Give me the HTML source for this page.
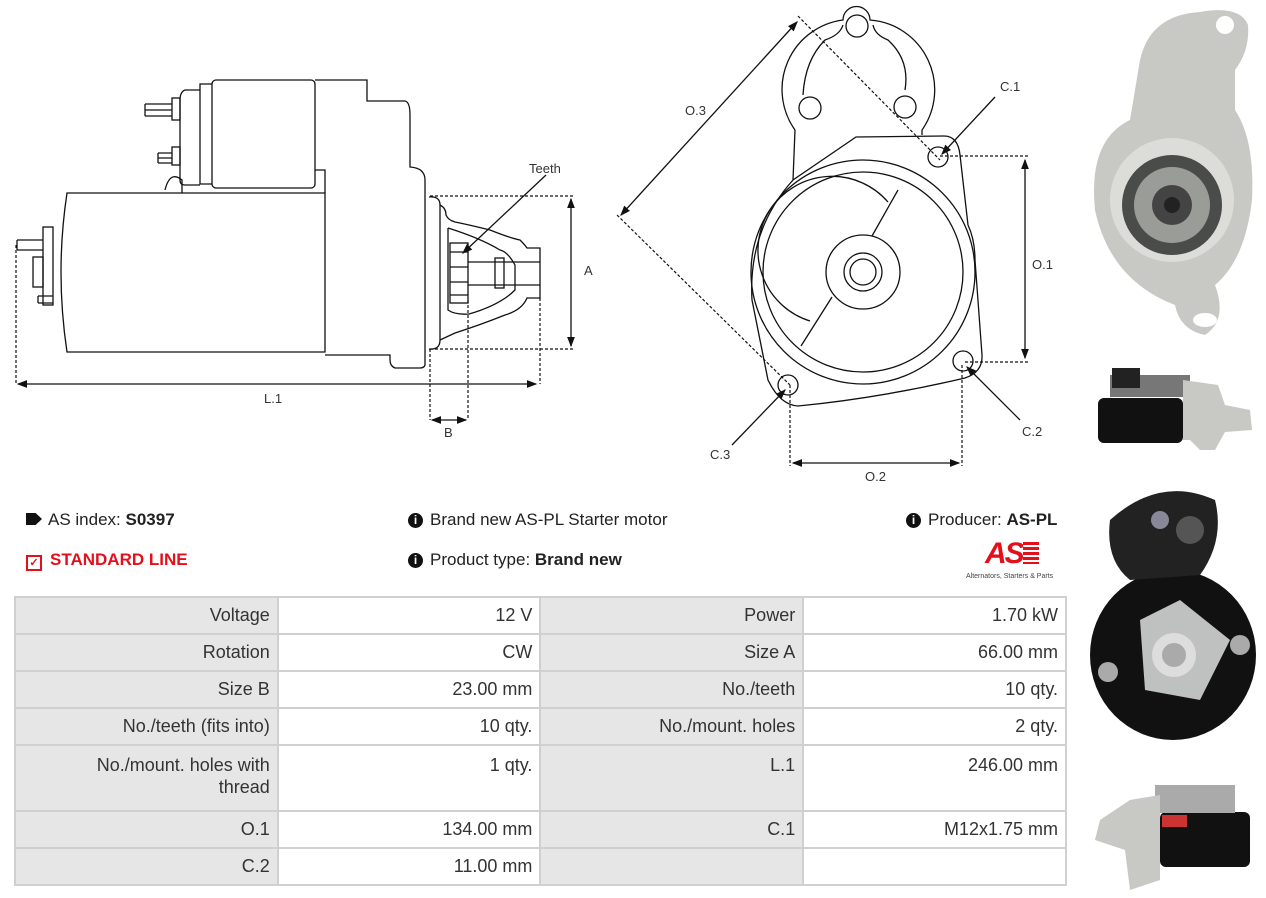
<!DOCTYPE html>
<html><head><meta charset="utf-8"><style>
body{margin:0;width:1266px;height:898px;background:#fff;font-family:"Liberation Sans",sans-serif;position:relative;overflow:hidden;color:#222}
.t{position:absolute;font-size:17px;white-space:nowrap}
table{position:absolute;left:14px;top:596px;border-collapse:collapse;width:1053px;font-size:18px}
td{border:2px solid #d0d0d0;text-align:right;padding:0 7px;height:34px;vertical-align:middle;color:#333}
td.l{background:#e6e6e6;width:248px}
td.v{background:#fff;width:248px}
tr.tall td{height:56px;vertical-align:top;padding-top:8px;line-height:22px}
.i{display:inline-block;width:15px;height:15px;border-radius:50%;background:#111;color:#fff;font-size:12px;font-weight:bold;text-align:center;line-height:15px;margin-right:7px;vertical-align:1px}
</style></head><body>
<svg width="1266" height="898" style="position:absolute;left:0;top:0" fill="none" stroke="#111" stroke-width="1.3">
<defs><marker id="a" markerWidth="8" markerHeight="8" refX="7" refY="4" orient="auto-start-reverse"><path d="M0,1 L8,4 L0,7z" fill="#111" stroke="none"/></marker></defs>
<!-- side view -->
<path d="M67,193 L325,193 L325,352 L67,352 Q55,272 67,193Z"/>
<path d="M182,193 L182,180 Q170,170 165,190"/>
<path d="M325,193 L325,170 L315,170"/>
<rect x="212" y="80" width="103" height="108" rx="4"/>
<path d="M212,84 L200,84 L200,184 L212,184"/>
<path d="M200,90 L185,90 Q180,92 180,100 L180,180 Q180,185 185,185 L200,185"/>
<rect x="172" y="98" width="8" height="22"/><rect x="172" y="147" width="8" height="18"/>
<path d="M145,104 h27 M145,110 h27 M145,116 h27 M145,104 v12"/>
<path d="M158,153 h14 M158,158 h14 M158,163 h14 M158,153 v10"/>
<path d="M315,80 L367,80 L367,101 L405,101 Q410,102 410,115 L410,167 Q425,168 425,180 L425,365 Q424,368 420,368 L395,368 Q390,366 390,360 L390,355 L325,355"/>
<path d="M429,197 Q440,196 440,205 L440,340 Q440,350 429,349"/>
<path d="M440,205 Q446,208 446,215 Q448,220 455,222 Q470,225 490,230 Q510,238 520,240 Q525,245 527,248 L540,248 L540,298 L527,298 Q522,310 505,315 Q480,325 455,333 L440,340"/>
<path d="M448,228 L448,310 Q455,315 469,314 Q500,305 515,290 L515,265 Q508,252 500,250 Q480,238 448,228"/>
<rect x="450" y="243" width="18" height="60"/><path d="M450,252 h18 M450,267 h18 M450,282 h18 M450,295 h18"/>
<path d="M468,262 L540,262 M468,285 L540,285"/><rect x="495" y="258" width="9" height="30"/>
<rect x="33" y="257" width="10" height="30"/><rect x="43" y="227" width="10" height="78"/>
<path d="M17,240 h26 M17,250 h26 M17,240 v10"/><path d="M38,296 h15 M38,303 h15 M38,296 v7"/>
<g stroke-dasharray="3,2" stroke-width="1.2">
<path d="M16,245 L16,384 M430,196 L575,196 M430,349 L575,349 M540,298 L540,384 M430,349 L430,420 M468,300 L468,420"/>
</g>
<path d="M18,384 L536,384" marker-start="url(#a)" marker-end="url(#a)"/>
<path d="M571,199 L571,346" marker-start="url(#a)" marker-end="url(#a)"/>
<path d="M432,420 L466,420" marker-start="url(#a)" marker-end="url(#a)"/>
<path d="M546,175 L463,253" marker-end="url(#a)"/>
<!-- front view -->
<path d="M795,130 A70,70 0 0 1 843,20 A11,11 0 0 1 870,20 A70,70 0 0 1 922,130"/>
<path d="M803,95 Q805,60 825,40 Q840,35 843,25 M905,90 Q910,60 888,40 Q875,35 873,25"/>
<circle cx="857" cy="26" r="11"/><circle cx="810" cy="108" r="11"/><circle cx="905" cy="107" r="11"/>
<path d="M793,180 L795,130 M922,130 L922,135"/>
<path d="M856,137 L944,136 Q958,136 960,155 L968,225 Q975,240 975,260 L982,355 Q983,372 965,378 Q880,398 798,406 Q780,405 768,380 L752,300 Q748,230 793,180 L856,137Z"/>
<circle cx="863" cy="272" r="112"/><circle cx="863" cy="272" r="100"/>
<path d="M888,202 A74,74 0 1 0 810,321"/><circle cx="863" cy="272" r="37"/><circle cx="863" cy="272" r="19"/><circle cx="863" cy="272" r="13"/>
<path d="M898,190 L872,236 M832,297 L801,346"/>
<circle cx="938" cy="157" r="10"/><circle cx="963" cy="361" r="10"/><circle cx="788" cy="385" r="10"/>
<g stroke-dasharray="3,2" stroke-width="1.2">
<path d="M798,16 L940,160 M617,215 L790,385 M940,156 L1028,156 M965,362 L1028,362 M790,385 L790,466 M962,365 L962,466"/>
</g>
<path d="M797,22 L621,215" marker-start="url(#a)" marker-end="url(#a)"/>
<path d="M1025,160 L1025,358" marker-start="url(#a)" marker-end="url(#a)"/>
<path d="M793,463 L959,463" marker-start="url(#a)" marker-end="url(#a)"/>
<path d="M995,97 L942,154" marker-end="url(#a)"/>
<path d="M1020,420 L967,367" marker-end="url(#a)"/>
<path d="M732,445 L785,390" marker-end="url(#a)"/>
<g fill="#333" stroke="none" font-family="Liberation Sans" font-size="13">
<text x="529" y="173">Teeth</text><text x="584" y="275">A</text><text x="264" y="403">L.1</text><text x="444" y="437">B</text>
<text x="685" y="115">O.3</text><text x="1000" y="91">C.1</text><text x="1032" y="269">O.1</text><text x="1022" y="436">C.2</text><text x="710" y="459">C.3</text><text x="865" y="481">O.2</text>
</g>
<!-- photos -->
<g stroke="none">
<path d="M1140,60 Q1150,15 1200,12 Q1240,5 1248,25 Q1250,50 1235,70 L1235,110 Q1255,140 1252,200 Q1245,260 1215,285 Q1228,320 1205,335 Q1180,330 1175,305 Q1110,280 1095,210 Q1088,140 1130,120Z" fill="#c8c8c4"/>
<circle cx="1172" cy="200" r="62" fill="#dcdcd8"/>
<circle cx="1172" cy="205" r="50" fill="#4a4c4a"/><circle cx="1172" cy="205" r="38" fill="#9a9c98"/><circle cx="1172" cy="205" r="20" fill="#444"/><circle cx="1172" cy="205" r="8" fill="#222"/>
<circle cx="1225" cy="25" r="9" fill="#fff"/><ellipse cx="1205" cy="320" rx="12" ry="7" fill="#fff"/>
<rect x="1098" y="398" width="85" height="45" rx="6" fill="#111"/><rect x="1110" y="375" width="80" height="22" fill="#777"/><path d="M1183,380 L1218,385 L1225,405 L1250,410 L1252,430 L1225,432 L1215,450 L1200,450 L1190,440 L1183,440Z" fill="#c8c8c4"/><rect x="1112" y="368" width="28" height="20" fill="#222"/>
<ellipse cx="1173" cy="655" rx="83" ry="85" fill="#111"/><path d="M1140,620 L1180,600 L1230,640 L1200,700 L1145,690Z" fill="#bfc1c0"/><circle cx="1174" cy="655" r="22" fill="#ddd"/><circle cx="1174" cy="655" r="12" fill="#aaa"/>
<circle cx="1108" cy="672" r="10" fill="#aaa"/><circle cx="1240" cy="645" r="10" fill="#aaa"/>
<path d="M1110,520 Q1160,475 1215,500 Q1225,540 1200,575 L1130,580 Q1105,560 1110,520Z" fill="#222"/><circle cx="1190" cy="530" r="14" fill="#555"/><circle cx="1160" cy="520" r="9" fill="#889"/>
<rect x="1160" y="812" width="90" height="55" rx="6" fill="#111"/><rect x="1155" y="785" width="80" height="28" fill="#aaa"/><path d="M1100,820 L1130,800 L1160,795 L1160,880 L1130,890 L1125,850 L1095,840Z" fill="#c8c8c4"/><rect x="1162" y="815" width="25" height="12" fill="#c33"/>
</g>
</svg>
<div class="t" style="left:26px;top:510px"><span style="display:inline-block;width:16px;height:12px;background:#111;clip-path:polygon(0 0,60% 0,100% 50%,60% 100%,0 100%);margin-right:6px"></span>AS index: <b>S0397</b></div>
<div class="t" style="left:26px;top:550px;color:#e3101b;font-weight:bold"><span style="display:inline-block;width:12px;height:12px;border:2px solid #e3101b;margin-right:8px;vertical-align:-1px;font-size:11px;line-height:12px;text-align:center">✓</span>STANDARD LINE</div>
<div class="t" style="left:408px;top:510px"><span class="i">i</span>Brand new AS-PL Starter motor</div>
<div class="t" style="left:408px;top:550px"><span class="i">i</span>Product type: <b>Brand new</b></div>
<div class="t" style="left:906px;top:510px"><span class="i">i</span>Producer: <b>AS-PL</b></div>
<div class="t" style="left:985px;top:537px;color:#e3101b;font-size:30px;font-weight:bold;font-style:italic;letter-spacing:-2px">AS<span style="display:inline-block;width:16px;height:22px;background:repeating-linear-gradient(#e3101b 0 3px,#fff 3px 5px);vertical-align:-1px"></span></div>
<div class="t" style="left:966px;top:573px;font-size:7px;color:#444">Alternators, Starters &amp; Parts</div>
<table>
<tr><td class="l" style="height:35px">Voltage</td><td class="v">12 V</td><td class="l">Power</td><td class="v">1.70 kW</td></tr>
<tr><td class="l" style="height:35px">Rotation</td><td class="v">CW</td><td class="l">Size A</td><td class="v">66.00 mm</td></tr>
<tr><td class="l" style="height:35px">Size B</td><td class="v">23.00 mm</td><td class="l">No./teeth</td><td class="v">10 qty.</td></tr>
<tr><td class="l" style="height:35px">No./teeth (fits into)</td><td class="v">10 qty.</td><td class="l">No./mount. holes</td><td class="v">2 qty.</td></tr>
<tr class="tall"><td class="l">No./mount. holes with<br>thread</td><td class="v">1 qty.</td><td class="l">L.1</td><td class="v">246.00 mm</td></tr>
<tr><td class="l" style="height:35px">O.1</td><td class="v">134.00 mm</td><td class="l">C.1</td><td class="v">M12x1.75 mm</td></tr>
<tr><td class="l" style="height:35px">C.2</td><td class="v">11.00 mm</td><td class="l"></td><td class="v"></td></tr>
</table>
</body></html>
